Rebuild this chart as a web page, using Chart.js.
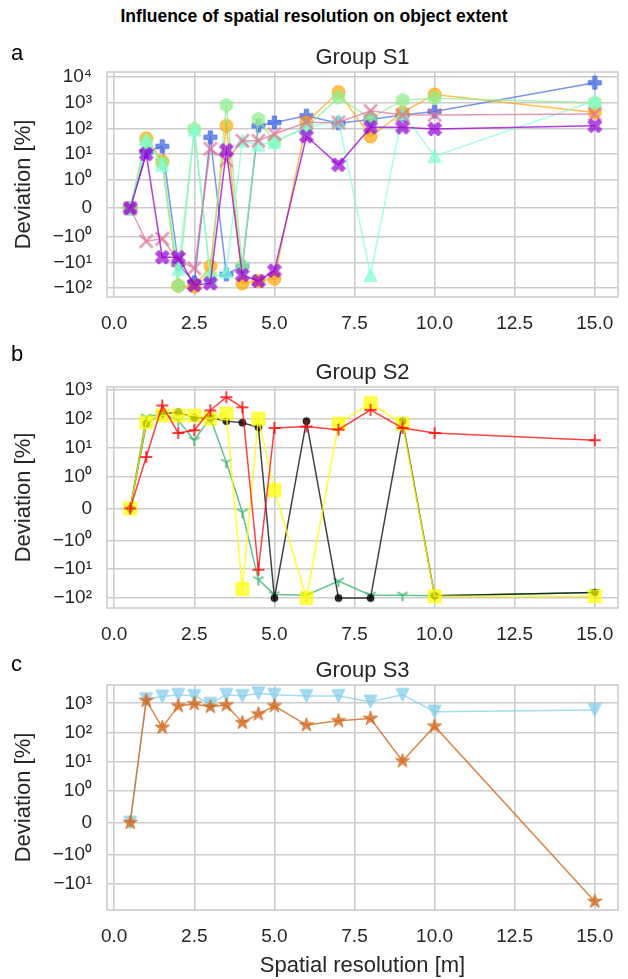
<!DOCTYPE html>
<html><head><meta charset="utf-8">
<script src="https://cdn.jsdelivr.net/npm/chart.js@4.4.1/dist/chart.umd.min.js"></script>
<style>
html,body{margin:0;padding:0;background:#fff;}
#wrap{position:relative;width:628px;height:979px;overflow:hidden;font-family:"Liberation Sans",Arial,sans-serif;color:#262626;}
canvas{position:absolute;left:0;}
.t{position:absolute;white-space:nowrap;line-height:1;z-index:5;}
</style></head><body>
<div id="wrap">
<canvas id="cA" width="628" height="300" style="top:40px"></canvas>
<canvas id="cB" width="628" height="296" style="top:355px"></canvas>
<canvas id="cC" width="628" height="326" style="top:653px"></canvas>
<div class="t" style="left:0;width:628px;text-align:center;top:8px;font-weight:bold;font-size:17.5px;color:#000">Influence of spatial resolution on object extent</div>
<div class="t" style="left:11px;top:42px;font-size:22px;color:#000">a</div>
<div class="t" style="left:11px;top:343px;font-size:22px;color:#000">b</div>
<div class="t" style="left:11px;top:653px;font-size:22px;color:#000">c</div>
</div>
<script>
// ---------------- data ----------------
const resolution = [0.5, 1, 1.5, 2, 2.5, 3, 3.5, 4, 4.5, 5, 6, 7, 8, 9, 10, 15];
const xTickValues = [0, 2.5, 5, 7.5, 10, 12.5, 15];
const yTicksS1 = [10000, 1000, 100, 10, 1, 0, -1, -10, -100];
const yTicksS2 = [1000, 100, 10, 1, 0, -1, -10, -100];
const yTicksS3 = [1000, 100, 10, 1, 0, -1, -10];

// Group S1
const s1Blue   = [0, 12, 20, -12, -60, 45, -29, -14, 126, 170, 310, 160, 220, 330, 455, 6000];
const s1Orange = [0, 41, 5.3, -81, -89, -14, 126, -66, -53, -44, 170, 2600, 48, 415, 2100, 415];
const s1Green  = [0, 30, 4.5, -81, 94, -35, 800, -14, 230, 30, 110, 1600, 245, 1250, 1500, 1000];
const s1Aqua   = [0, 36, 3.8, -18, 89, -41, -23, 33, 23, 29, 110, 200, -31, 390, 8.3, 1180];
const s1Pink   = [0, -1.5, -1.2, -8, -17, 16, 5.6, 33, 33, 60, 170, 170, 480, 330, 330, 360];
const s1Violet = [0, 10, -6.3, -6.3, -76, -66, 14, -31, -53, -21, 49, 3.8, 110, 110, 94, 126];

// Group S2
const s2Green  = [0, 114, 150, 88, 18, 108, 3.1, -0.12, -23, -76, -80, -26, -80, -80, -83, -64];
const s2Black  = [0, 67, 150, 170, 108, 108, 83, 73, 51, -100, 83, -100, -100, 83, -83, -64];
const s2Yellow = [0, 76, 130, 130, 130, 100, 150, -49, 100, 0.57, -100, 67, 350, 67, -87, -87];
const s2Red    = [0, 4.7, 290, 32, 40, 195, 560, 250, -10.4, 48, 54, 42, 205, 48, 32, 18];

// Group S3
const s3Sky   = [0, 1380, 1700, 1950, 1780, 950, 1950, 1780, 2200, 1950, 1780, 1780, 1140, 1950, 515, 590];
const s3Choc  = [0, 1230, 147, 810, 950, 760, 870, 215, 425, 810, 178, 250, 300, 10.3, 163, -40];

// ---------------- symlog scale (linthresh 1, linscale 1, base 10) ----------------
const LS = 1 / (1 - 1 / 10);
function symT(v) { const a = Math.abs(v); const t = a <= 1 ? a * LS : LS + Math.log10(a); return v < 0 ? -t : t; }
function symInv(t) { const a = Math.abs(t); const v = a <= LS ? a / LS : Math.pow(10, a - LS); return t < 0 ? -v : v; }

class SymlogScale extends Chart.Scale {
  determineDataLimits() {
    const mm = this.getMinMax(true);
    const o = this.options;
    this.min = (typeof o.min === 'number') ? o.min : mm.min;
    this.max = (typeof o.max === 'number') ? o.max : mm.max;
  }
  buildTicks() { return []; }
  getLabelForValue(v) { return String(v); }
  getPixelForValue(v) {
    if (v === null || v === undefined || isNaN(v)) return NaN;
    const t0 = symT(this.min), t1 = symT(this.max);
    return this.getPixelForDecimal((symT(v) - t0) / (t1 - t0));
  }
  getValueForPixel(p) {
    const t0 = symT(this.min), t1 = symT(this.max);
    return symInv(t0 + this.getDecimalForPixel(p) * (t1 - t0));
  }
}
SymlogScale.id = 'symlog';
SymlogScale.defaults = {};
Chart.register(SymlogScale);

const SUP = {'0':'\u2070','1':'\u00B9','2':'\u00B2','3':'\u00B3','4':'\u2074','5':'\u2075'};
function symLabel(v) {
  if (v === 0) return '0';
  const e = Math.round(Math.log10(Math.abs(v)));
  return (v < 0 ? '\u2212' : '') + '10' + String(e).split('').map(c => SUP[c]).join('');
}

// ---------------- markers ----------------
function mk(shape, size, rgb, alpha, lw) {
  lw = lw || 1;
  const pad = 2 + lw;
  const S = Math.ceil(size + 2 * pad);
  const c = document.createElement('canvas'); c.width = S; c.height = S;
  const g = c.getContext('2d');
  g.translate(S / 2, S / 2);
  const r = size / 2;
  const col = 'rgba(' + rgb + ',' + alpha + ')';
  g.fillStyle = col; g.strokeStyle = col; g.lineWidth = lw; g.lineJoin = 'miter'; g.lineCap = 'butt';
  const poly = pts => { g.beginPath(); pts.forEach((p, i) => i ? g.lineTo(p[0] * r, p[1] * r) : g.moveTo(p[0] * r, p[1] * r)); g.closePath(); };
  let filled = true;
  switch (shape) {
    case 'o': g.beginPath(); g.arc(0, 0, r, 0, Math.PI * 2); break;
    case 's': poly([[-1,-1],[1,-1],[1,1],[-1,1]]); break;
    case 'h': { const p = []; for (let k = 0; k < 6; k++) { const a = -Math.PI / 2 + k * Math.PI / 3; p.push([Math.cos(a), Math.sin(a)]); } poly(p); break; }
    case '^': poly([[0,-1],[1,1],[-1,1]]); break;
    case 'v': poly([[0,1],[-1,-1],[1,-1]]); break;
    case '*': { const p = []; for (let k = 0; k < 10; k++) { const a = -Math.PI / 2 + k * Math.PI / 5; const rr = k % 2 ? 0.381966 : 1; p.push([rr * Math.cos(a), rr * Math.sin(a)]); } poly(p); break; }
    case 'P': { const t = 1 / 3; poly([[-t,-1],[t,-1],[t,-t],[1,-t],[1,t],[t,t],[t,1],[-t,1],[-t,t],[-1,t],[-1,-t],[-t,-t]]); break; }
    case 'X': poly([[-0.5,-1],[0,-0.5],[0.5,-1],[1,-0.5],[0.5,0],[1,0.5],[0.5,1],[0,0.5],[-0.5,1],[-1,0.5],[-0.5,0],[-1,-0.5]]); break;
    case 'x': filled = false; g.beginPath(); g.moveTo(-r,-r); g.lineTo(r,r); g.moveTo(r,-r); g.lineTo(-r,r); break;
    case '+': filled = false; g.beginPath(); g.moveTo(-r,0); g.lineTo(r,0); g.moveTo(0,-r); g.lineTo(0,r); break;
    case '1': filled = false; g.beginPath(); g.moveTo(0,0); g.lineTo(0,r); g.moveTo(0,0); g.lineTo(-0.866*r,-0.5*r); g.moveTo(0,0); g.lineTo(0.866*r,-0.5*r); break;
  }
  if (filled) { g.fill(); g.lineWidth = 1; g.stroke(); } else { g.stroke(); }
  return c;
}

// ---------------- chart helpers ----------------
const FONT = '"Liberation Sans", Arial, sans-serif';
const TXT = '#262626';
const GRID = '#cccccc';

const framePlugin = {
  id: 'frame',
  beforeDatasetsDraw(chart) {
    const {ctx, chartArea: a} = chart;
    ctx.save(); ctx.strokeStyle = GRID; ctx.lineWidth = 1.6;
    ctx.strokeRect(a.left, a.top, a.right - a.left, a.bottom - a.top);
    ctx.restore();
  }
};

function makePanel(id, title, series, yTicks, yMin, yMax, showXTitle) {
  const n = series.length;
  return new Chart(document.getElementById(id), {
    type: 'line',
    data: {
      datasets: series.map((s, i) => ({
        label: s.label,
        data: resolution.map((x, j) => ({x: x, y: s.values[j]})),
        borderColor: 'rgba(' + s.rgb + ',' + s.lineAlpha + ')',
        backgroundColor: 'rgba(' + s.rgb + ',' + s.alpha + ')',
        borderWidth: 1.5,
        pointStyle: mk(s.marker, s.size, s.rgb, s.alpha, s.lw),
        pointRadius: s.size / 2,
        pointHoverRadius: s.size / 2,
        tension: 0,
        fill: false,
        order: n - i
      }))
    },
    options: {
      responsive: false, animation: false, devicePixelRatio: 1,
      events: [],
      layout: {padding: {top: 5, right: 10, bottom: 0, left: 0}},
      plugins: {
        legend: {display: false},
        tooltip: {enabled: false},
        title: {display: true, text: title, fullSize: false, color: TXT,
                font: {family: FONT, size: 22, weight: 'normal'}, padding: {top: 0, bottom: 0.6}}
      },
      scales: {
        x: {
          type: 'linear', min: -0.225, max: 15.725,
          afterBuildTicks: sc => { sc.ticks = xTickValues.map(v => ({value: v})); },
          afterFit: sc => { sc.height = showXTitle ? 69 : 43; },
          grid: {color: GRID, lineWidth: 1.6, drawTicks: true, tickLength: 11, tickColor: 'rgba(0,0,0,0)'},
          border: {display: false},
          ticks: {padding: 4, autoSkip: false, maxRotation: 0, color: TXT,
                  font: {family: FONT, size: 19}, callback: v => Number(v).toFixed(1)},
          title: {display: showXTitle, text: 'Spatial resolution [m]', color: TXT,
                  font: {family: FONT, size: 22}, padding: {top: 0, bottom: 0}}
        },
        y: {
          type: 'symlog', min: yMin, max: yMax,
          afterBuildTicks: sc => { sc.ticks = yTicks.map(v => ({value: v})); },
          afterFit: sc => { sc.width = 107; },
          grid: {color: GRID, lineWidth: 1.6, drawTicks: false},
          border: {display: false},
          ticks: {padding: 15, autoSkip: false, color: TXT,
                  font: {family: FONT, size: 19}, callback: v => symLabel(v)},
          title: {display: true, text: 'Deviation [%]', color: TXT,
                  font: {family: FONT, size: 22}, padding: {top: 11, bottom: 0}}
        }
      }
    },
    plugins: [framePlugin]
  });
}

makePanel('cA', 'Group S1', [
  {label: 'S1 object 1', values: s1Blue,   rgb: '65,105,225',  marker: 'P', size: 13, alpha: 0.75, lineAlpha: 0.7},
  {label: 'S1 object 2', values: s1Orange, rgb: '255,165,0',   marker: 'o', size: 13, alpha: 0.7,  lineAlpha: 0.7},
  {label: 'S1 object 3', values: s1Green,  rgb: '144,238,144', marker: 'h', size: 14, alpha: 0.75, lineAlpha: 0.75},
  {label: 'S1 object 4', values: s1Aqua,   rgb: '127,255,212', marker: '^', size: 13, alpha: 0.7,  lineAlpha: 0.7},
  {label: 'S1 object 5', values: s1Pink,   rgb: '219,112,147', marker: 'x', size: 13, alpha: 0.7,  lineAlpha: 0.7, lw: 2.5},
  {label: 'S1 object 6', values: s1Violet, rgb: '148,0,211',   marker: 'X', size: 14, alpha: 0.7,  lineAlpha: 0.75}
], yTicksS1, -223, 15700, false);

makePanel('cB', 'Group S2', [
  {label: 'S2 object 1', values: s2Green,  rgb: '60,179,113', marker: '1', size: 12, alpha: 0.8,  lineAlpha: 0.8, lw: 2},
  {label: 'S2 object 2', values: s2Black,  rgb: '0,0,0',      marker: 'o', size: 7,  alpha: 0.8,  lineAlpha: 0.75},
  {label: 'S2 object 3', values: s2Yellow, rgb: '255,255,0',  marker: 's', size: 13, alpha: 0.7,  lineAlpha: 0.8},
  {label: 'S2 object 4', values: s2Red,    rgb: '255,0,0',    marker: '+', size: 12, alpha: 0.75, lineAlpha: 0.75, lw: 2}
], yTicksS2, -222, 1270, false);

makePanel('cC', 'Group S3', [
  {label: 'S3 object 1', values: s3Sky,  rgb: '135,206,235', marker: 'v', size: 13, alpha: 0.75, lineAlpha: 0.75},
  {label: 'S3 object 2', values: s3Choc, rgb: '210,105,30',  marker: '*', size: 15, alpha: 0.8,  lineAlpha: 0.8}
], yTicksS3, -78.5, 4255, true);
</script>
</body></html>
